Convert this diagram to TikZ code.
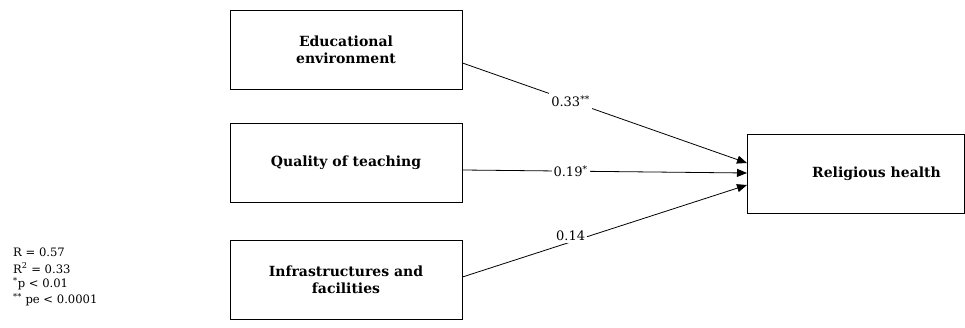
\documentclass[tikz,border=0pt]{standalone}
\usepackage{fontspec}
\setmainfont{DejaVu Serif}
\usetikzlibrary{arrows.meta}
\begin{document}
\begin{tikzpicture}[x=1pt,y=-1pt,
  box/.style={draw,line width=0.9pt,minimum width=232pt,minimum height=79pt,inner sep=0pt,align=center,font=\fontsize{14}{17}\selectfont\bfseries},
  link/.style={line width=0.8pt,-{Triangle[length=10pt,width=8pt]}},
  coef/.style={fill=white,inner sep=2pt,font=\fontsize{13}{15}\selectfont},
  legend/.style={anchor=west,inner sep=0pt,font=\fontsize{11.6}{14}\selectfont}]
\useasboundingbox (0,0) rectangle (965,328);
\node[box] (edu) at (346,49.5) {Educational\\environment};
\node[box] (qual) at (346,162.5) {Quality of teaching};
\node[box] (infra) at (346,279.5) {Infrastructures and\\facilities};
\node[box,minimum width=217pt] (rel) at (855.5,173.5) {\hspace*{42pt}Religious health};
\coordinate (e1) at (747,163);
\coordinate (e2) at (747,173);
\coordinate (e3) at (747,185);
\draw[link] (edu.east |- 0,63) -- node[coef,pos=0.38] {0.33\textsuperscript{**}} (e1);
\draw[link] (qual.east |- 0,170) -- node[coef,pos=0.38] {0.19\textsuperscript{*}} (e2);
\draw[link] (infra.east |- 0,277) -- node[coef,pos=0.38,yshift=6pt] {0.14} (e3);
\node[legend] (l1) at (13,252) {R = 0.57};
\node[legend] (l2) at (13,268) {R\textsuperscript{2} = 0.33};
\node[legend] (l3) at (13,284) {\textsuperscript{*}p < 0.01};
\node[legend] (l4) at (13,300) {\textsuperscript{**} pe < 0.0001};
\end{tikzpicture}
\end{document}
